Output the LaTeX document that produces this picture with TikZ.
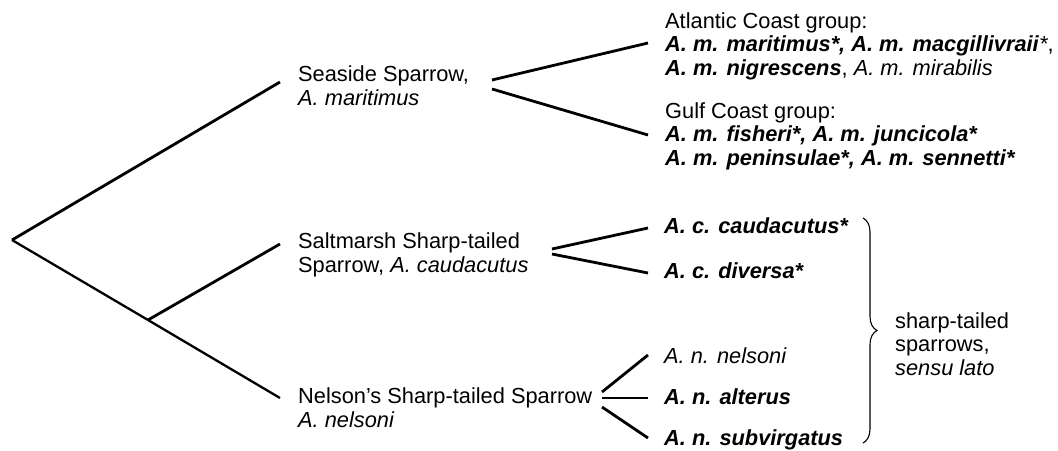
\documentclass[tikz,border=0pt]{standalone}
\usepackage{fontspec}
\setmainfont{Liberation Sans}
\usetikzlibrary{positioning,decorations.pathreplacing}

\tikzset{
	lbl/.style={anchor=base west, inner sep=0pt, align=left, font=\fontsize{21.8}{23.5}\selectfont},
	branch/.style={line width=2.8pt},
	thinbranch/.style={line width=2.3pt}
}
\newcommand{\bi}[1]{\textbf{\textit{#1}}}

\begin{document}
\begin{tikzpicture}[x=1pt,y=-1pt]
		\useasboundingbox (0,0) rectangle (1058,450);
		
		\coordinate (root) at (12, 240);
		\coordinate (split) at (148, 320);
		\coordinate (seaEnd) at (280, 82);
		\coordinate (saltEnd) at (280, 244);
		\coordinate (nelEnd) at (280, 398);
		
		% anchors sit on the baseline of the last line
		\node[lbl] (sea) at (298, 105) {Seaside Sparrow,\\\textit{A. maritimus}};
		\node[lbl] (salt) at (298, 272) {Saltmarsh Sharp-tailed\\Sparrow, \textit{A. caudacutus}};
		\node[lbl] (nel) at (298, 427) {Nelson's Sharp-tailed Sparrow\\\textit{A. nelsoni}};
		
		\node[lbl] (atl) at (665, 75) {Atlantic Coast group:\\\bi{A. m. maritimus*, A. m. macgillivraii}\textit{*},\\\bi{A. m. nigrescens}, \textit{A. m. mirabilis}};
		\node[lbl] (gulf) at (665, 165) {Gulf Coast group:\\\bi{A. m. fisheri*, A. m. juncicola*}\\\bi{A. m. peninsulae*, A. m. sennetti*}};
		
		\node[lbl] (cc) at (664, 233) {\bi{A. c. caudacutus*}};
		\node[lbl] (cd) at (664, 278) {\bi{A. c. diversa*}};
		\node[lbl] (nn) at (664, 363) {\textit{A. n. nelsoni}};
		\node[lbl] (na) at (664, 404) {\bi{A. n. alterus}};
		\node[lbl] (ns) at (664, 445) {\bi{A. n. subvirgatus}};
		
		\node[lbl] (sensu) at (895, 375) {sharp-tailed\\sparrows,\\\textit{sensu lato}};
		
		\coordinate (seaA) at (492, 80);
		\coordinate (seaB) at (492, 89);
		\coordinate (atlIn) at (648, 43);
		\coordinate (gulfIn) at (648, 135);
		\coordinate (saltA) at (552, 249);
		\coordinate (saltB) at (552, 254);
		\coordinate (ccIn) at (648, 228);
		\coordinate (cdIn) at (648, 273);
		\coordinate (nelA) at (602, 392);
		\coordinate (nelB) at (602, 398);
		\coordinate (nelC) at (602, 407);
		\coordinate (nnIn) at (648, 355);
		\coordinate (naIn) at (648, 398);
		\coordinate (nsIn) at (648, 438);
		
		\path[branch] (root) edge (seaEnd);
		\path[thinbranch] (root) edge (split);
		\path[branch] (split) edge (saltEnd);
		\path[thinbranch] (split) edge (nelEnd);
		
		\path[branch] (seaA) edge (atlIn);
		\path[branch] (seaB) edge (gulfIn);
		\path[branch] (saltA) edge (ccIn);
		\path[branch] (saltB) edge (cdIn);
		\path[branch] (nelA) edge (nnIn);
		\path[branch] (nelB) edge (naIn);
		\path[branch] (nelC) edge (nsIn);
		
		\draw[line width=1.1pt, decorate, decoration={brace, amplitude=14pt}] (863, 218) -- (863, 443);
		\end{tikzpicture}
\end{document}
